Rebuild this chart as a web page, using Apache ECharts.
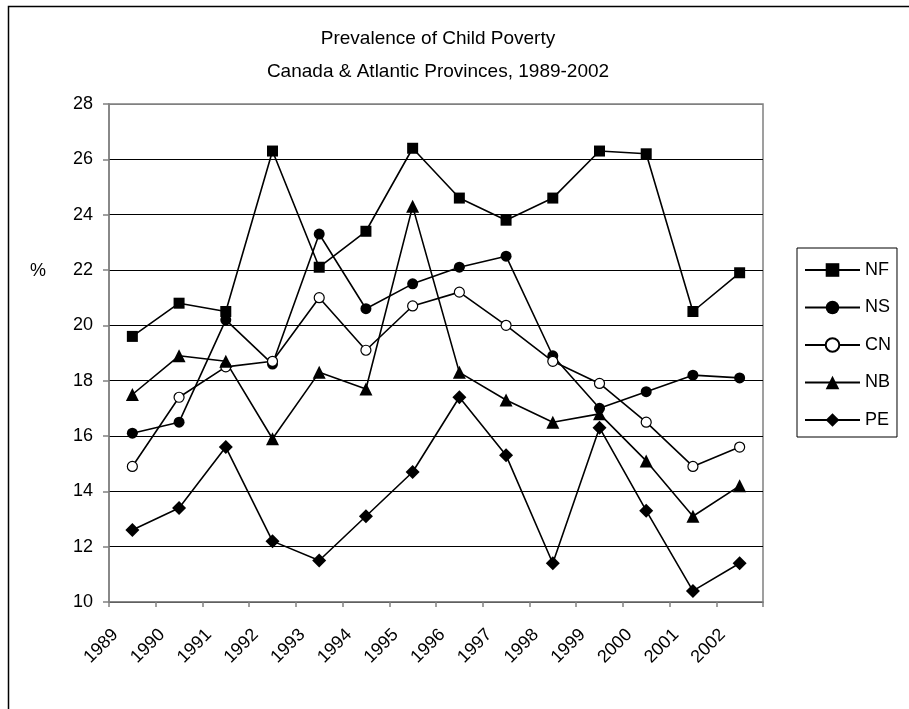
<!DOCTYPE html>
<html>
<head>
<meta charset="utf-8">
<script src="https://cdn.jsdelivr.net/npm/echarts@6/dist/echarts.min.js"></script>
<style>
  html, body { margin: 0; padding: 0; background: #fff; }
  #povertyChart { width: 909px; height: 709px; }
</style>
</head>
<body>
<div id="povertyChart"></div>
<script>
  // data
  var years = ['1989','1990','1991','1992','1993','1994','1995','1996','1997','1998','1999','2000','2001','2002'];
  var nf = [19.6, 20.8, 20.5, 26.3, 22.1, 23.4, 26.4, 24.6, 23.8, 24.6, 26.3, 26.2, 20.5, 21.9];
  var ns = [16.1, 16.5, 20.2, 18.6, 23.3, 20.6, 21.5, 22.1, 22.5, 18.9, 17.0, 17.6, 18.2, 18.1];
  var cn = [14.9, 17.4, 18.5, 18.7, 21.0, 19.1, 20.7, 21.2, 20.0, 18.7, 17.9, 16.5, 14.9, 15.6];
  var nb = [17.5, 18.9, 18.7, 15.9, 18.3, 17.7, 24.3, 18.3, 17.3, 16.5, 16.8, 15.1, 13.1, 14.2];
  var pe = [12.6, 13.4, 15.6, 12.2, 11.5, 13.1, 14.7, 17.4, 15.3, 11.4, 16.3, 13.3, 10.4, 11.4];

  var myChart = echarts.init(document.getElementById('povertyChart'));

  function makeSeries(name, data, symbol, size, fill) {
    return {
      name: name,
      type: 'line',
      data: data,
      symbol: symbol,
      symbolSize: size,
      showAllSymbol: true,
      animation: false,
      lineStyle: { color: '#000', width: 1.6 },
      itemStyle: { color: fill, borderColor: '#000', borderWidth: fill === '#fff' ? 1.2 : 0 }
    };
  }

  var option = {
    backgroundColor: '#fff',
    animation: false,
    title: {
      text: 'Prevalence of Child Poverty\nCanada & Atlantic Provinces, 1989-2002',
      left: 433,
      top: 17,
      textAlign: 'center',
      textStyle: {
        fontFamily: 'Liberation Sans',
        fontSize: 19,
        fontWeight: 'normal',
        color: '#000',
        lineHeight: 33
      }
    },
    graphic: [
      {
        type: 'rect',
        shape: { x: 8.5, y: 6.5, width: 1000, height: 1000 },
        style: { fill: 'none', stroke: '#000', lineWidth: 1.5 },
        silent: true
      },
      {
        type: 'text',
        left: 30,
        top: 262,
        style: { text: '%', font: '18px "Liberation Sans"', fill: '#000' }
      }
    ],
    legend: {
      orient: 'vertical',
      left: 797,
      top: 248,
      padding: [13, 6, 8, 7],
      itemWidth: 55,
      itemHeight: 17,
      itemGap: 19.5,
      borderColor: '#000',
      borderWidth: 1,
      textStyle: { fontFamily: 'Liberation Sans', fontSize: 18, color: '#000' },
      data: ['NF', 'NS', 'CN', 'NB', 'PE']
    },
    grid: {
      left: 109,
      top: 104,
      width: 654,
      height: 498,
      show: true,
      borderColor: '#808080',
      borderWidth: 1.5
    },
    xAxis: {
      type: 'category',
      data: years,
      boundaryGap: true,
      axisLine: { lineStyle: { color: '#808080', width: 1.5 } },
      axisTick: { show: true, length: 5, lineStyle: { color: '#808080', width: 1.5 } },
      axisLabel: {
        interval: 0,
        rotate: 45,
        margin: 13,
        padding: [0, 24, 0, 0],
        fontFamily: 'Liberation Sans',
        fontSize: 18,
        color: '#000'
      },
      splitLine: { show: false }
    },
    yAxis: {
      type: 'value',
      min: 10,
      max: 28,
      interval: 2,
      axisLine: { show: true, lineStyle: { color: '#808080', width: 1.5 } },
      axisTick: { show: true, length: 6, lineStyle: { color: '#808080', width: 1.5 } },
      axisLabel: {
        margin: 16,
        fontFamily: 'Liberation Sans',
        fontSize: 18,
        color: '#000'
      },
      splitLine: {
        show: true,
        lineStyle: {
          color: ['#000', '#000', '#000', '#000', '#000', '#000', '#000', '#000', '#000', '#808080'],
          width: 1
        }
      }
    },
    series: [
      makeSeries('NF', nf, 'rect', 11, '#000'),
      makeSeries('NS', ns, 'circle', 11, '#000'),
      makeSeries('CN', cn, 'circle', 10, '#fff'),
      makeSeries('NB', nb, 'triangle', 13, '#000'),
      makeSeries('PE', pe, 'diamond', 14, '#000')
    ]
  };

  myChart.setOption(option, true);
</script>
</body>
</html>
